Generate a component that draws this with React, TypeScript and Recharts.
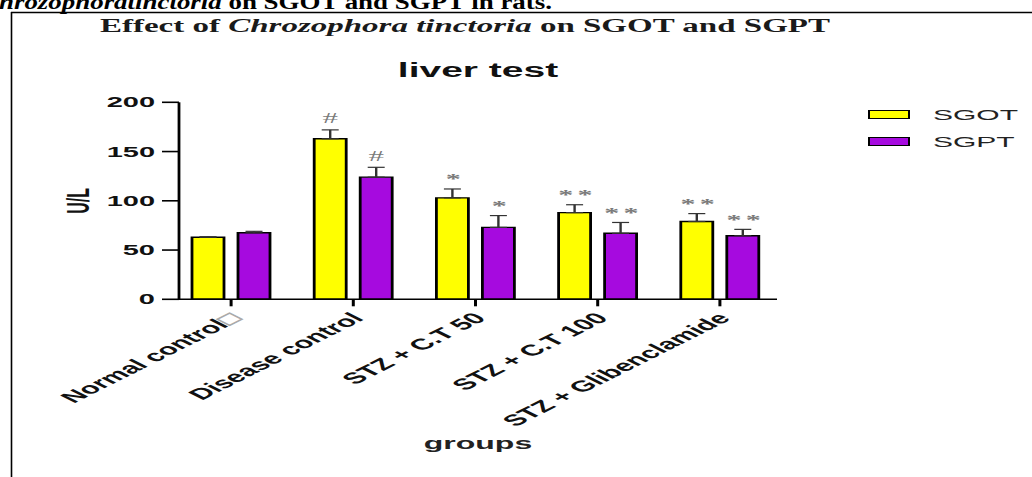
import React from 'react';
import { BarChart, Bar, XAxis, YAxis, ErrorBar, Legend, LabelList } from 'recharts';

const categories = ['Normal control\u25A1', 'Disease control', 'STZ + C.T 50', 'STZ + C.T 100', 'STZ + Glibenclamide'];
const sgot = [63, 163, 103, 88, 79];
const sgotErr = [0.5, 9, 9, 8, 8];
const sgpt = [67.5, 124, 73, 67, 64.5];
const sgptErr = [1.5, 10, 12, 11, 6.5];
const sgotSig = ['', '#', '*', '* *', '* *'];
const sgptSig = ['', '#', '*', '* *', '* *'];
const yTicks = [0, 50, 100, 150, 200];

const data = categories.map((name, i) => ({
  name,
  SGOT: sgot[i],
  SGPT: sgpt[i],
  sgotErr: [0, sgotErr[i]],
  sgptErr: [0, sgptErr[i]],
  sgotSig: sgotSig[i],
  sgptSig: sgptSig[i],
}));

const SANS = '"Liberation Sans", Arial, Helvetica, sans-serif';
const SERIF = '"Liberation Serif", "Times New Roman", serif';
const STRETCH = 2;
const W = 1032 / STRETCH;
const H = 477;
const XH = 120;

const sigRenderer = (vals: number[], errs: number[], sigs: string[]) => (props: any) => {
  const vb = props.viewBox || props;
  const x = props.x ?? vb.x;
  const y = props.y ?? vb.y;
  const width = props.width ?? vb.width;
  const height = props.height ?? vb.height;
  const index = props.index;
  const s = sigs[index];
  if (!s) return null;
  const errPx = (height * errs[index]) / vals[index];
  const isHash = s.indexOf('#') >= 0;
  return (
    <text
      x={x + width / 2}
      y={y - errPx - (isHash ? 6.5 : 4.5)}
      textAnchor="middle"
      fontSize={isHash ? 15.5 : 15}
      fontWeight={isHash ? 'normal' : 'bold'}
      fill="#7a7a7a"
      fontFamily={SERIF}
      letterSpacing={isHash ? 0 : -0.8}
    >
      {s}
    </text>
  );
};

const XTick = (props: any) => {
  const { x, y, payload } = props;
  const label: string = String(payload.value);
  const hasBox = label.endsWith('\u25A1');
  const main = hasBox ? label.slice(0, -1) : label;
  return (
    <g transform={`translate(${x + 2},${y + 9})`}>
      <text
        transform="rotate(-45)"
        textAnchor="end"
        dy="0.35em"
        fontSize={15.5}
        fontWeight="bold"
        fill="#111"
        fontFamily={SANS}
      >
        {main}
        {hasBox ? <tspan fill="none" stroke="#aaa" strokeWidth={0.6}>{'\u25A1'}</tspan> : null}
      </text>
    </g>
  );
};

const renderYLabel = (props: any) => {
  const vb = props.viewBox;
  const cx = vb.x + 38.5;
  const cy = vb.y + vb.height / 2;
  return (
    <text
      x={cx}
      y={cy}
      transform={`rotate(-90, ${cx}, ${cy})`}
      textAnchor="middle"
      dy="0.36em"
      fontSize={16}
      fontWeight="bold"
      fill="#111"
      fontFamily={SANS}
    >
      U/L
    </text>
  );
};

const renderLegend = (props: any) => (
  <div>
    {(props.payload || []).map((e: any) => (
      <div key={e.value} style={{ display: 'flex', alignItems: 'center', height: 27 }}>
        <div
          style={{
            width: 21.5,
            height: 8.5,
            background: e.color,
            border: '1px solid #000',
            boxSizing: 'border-box',
          }}
        />
        <span style={{ marginLeft: 11.5, fontSize: 15, fontFamily: SANS, color: '#222', lineHeight: '27px' }}>
          {e.value}
        </span>
      </div>
    ))}
  </div>
);

export default function App() {
  return (
    <div style={{ position: 'absolute', left: 0, top: 0, width: 1032, height: 477, overflow: 'hidden', background: '#fff' }}>
      <div
        style={{
          position: 'absolute',
          left: 0,
          top: 0,
          width: W,
          height: H,
          transform: `scaleX(${STRETCH})`,
          transformOrigin: '0 0',
        }}
      >
        <BarChart
          width={W}
          height={H}
          data={data}
          margin={{ top: 102.3, right: W - 388.5, bottom: H - 299.3 - XH, left: 0 }}
          barGap={7}
        >
          <XAxis
            dataKey="name"
            height={XH}
            interval={0}
            padding={{ left: -4.5, right: -2 }}
            tickSize={7}
            tickMargin={0}
            tick={<XTick />}
            axisLine={{ stroke: '#000', strokeWidth: 1.5 }}
            tickLine={{ stroke: '#000', strokeWidth: 1.5 }}
          />
          <YAxis
            width={89.5}
            domain={[0, 200]}
            ticks={yTicks}
            tickSize={8.5}
            tickMargin={3.5}
            tick={{ fontSize: 14.5, fontWeight: 'bold', fill: '#111', fontFamily: SANS }}
            axisLine={{ stroke: '#000', strokeWidth: 1.4 }}
            tickLine={{ stroke: '#000', strokeWidth: 1.6 }}
            label={renderYLabel}
          />
          <Legend
            layout="horizontal"
            verticalAlign="middle"
            align="center"
            content={renderLegend}
            wrapperStyle={{ left: 433.5, top: 101, width: 80 }}
          />
          <Bar dataKey="SGOT" name="SGOT" fill="#FFFF00" stroke="#000" strokeWidth={1.4} barSize={16} isAnimationActive={false}>
            <ErrorBar dataKey="sgotErr" width={4.25} stroke="#333" strokeWidth={1.2} direction="y" />
            <LabelList dataKey="sgotSig" content={sigRenderer(sgot, sgotErr, sgotSig)} />
          </Bar>
          <Bar dataKey="SGPT" name="SGPT" fill="#A60ADF" stroke="#000" strokeWidth={1.4} barSize={16} isAnimationActive={false}>
            <ErrorBar dataKey="sgptErr" width={4.25} stroke="#333" strokeWidth={1.2} direction="y" />
            <LabelList dataKey="sgptSig" content={sigRenderer(sgpt, sgptErr, sgptSig)} />
          </Bar>
        </BarChart>
        <svg
          width={W}
          height={H}
          style={{ position: 'absolute', left: 0, top: 0, pointerEvents: 'none' }}
        >
          <text x={239} y={76.7} textAnchor="middle" fontSize={19.5} fontWeight="bold" fill="#111" fontFamily={SANS}>
            liver test
          </text>
          <text x={239} y={449} textAnchor="middle" fontSize={16} fontWeight="bold" fill="#222" fontFamily={SANS}>
            groups
          </text>
        </svg>
      </div>
      <svg width={1032} height={477} style={{ position: 'absolute', left: 0, top: 0, pointerEvents: 'none' }}>
        <line x1={11} y1={12.5} x2={1032} y2={12.5} stroke="#000" strokeWidth={1.4} />
        <line x1={11.5} y1={12} x2={11.5} y2={477} stroke="#000" strokeWidth={1.6} />
        <text
          x={-19}
          y={8.5}
          fontSize={20}
          fontWeight="bold"
          fill="#000"
          fontFamily={SERIF}
          textLength={571}
          lengthAdjust="spacingAndGlyphs"
        >
          <tspan fontStyle="italic">Chrozophoratinctoria</tspan> on SGOT and SGPT in rats.
        </text>
        <text
          x={100}
          y={31.5}
          fontSize={18.5}
          fontWeight="bold"
          fill="#1a1a1a"
          fontFamily={SERIF}
          textLength={730}
          lengthAdjust="spacingAndGlyphs"
        >
          Effect of <tspan fontStyle="italic">Chrozophora tinctoria</tspan> on SGOT and SGPT
        </text>
      </svg>
    </div>
  );
}
